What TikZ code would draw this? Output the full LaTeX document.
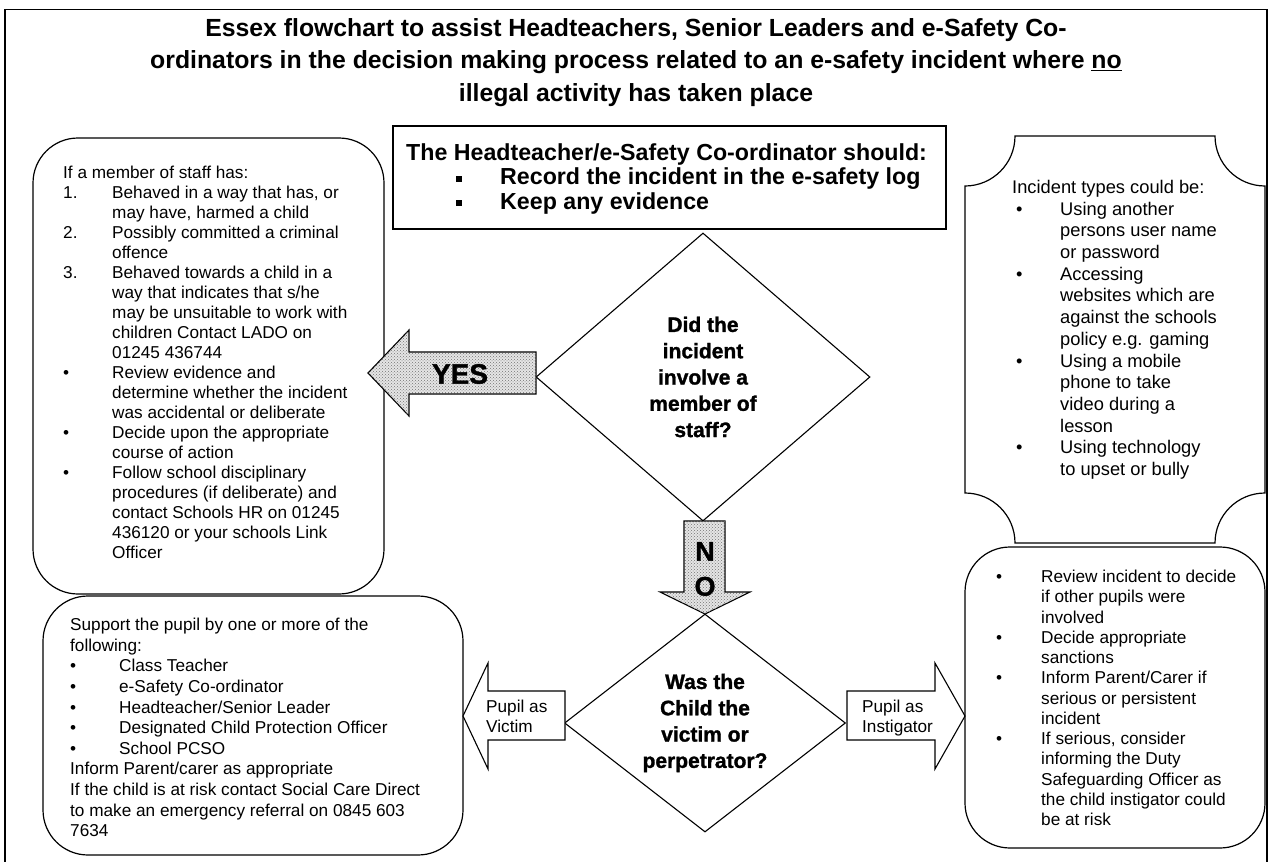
\documentclass[tikz,border=0pt]{standalone}
\usepackage{fontspec}
\setmainfont{Liberation Sans}
\newfontfamily\heavyfont{Liberation Sans}[BoldFeatures={FakeBold=1.3}]
\usetikzlibrary{shapes.geometric,patterns}

\newcommand{\lab}[2][49pt]{\makebox[#1][l]{#2}}
\newcommand{\ind}[1][49pt]{\hspace*{#1}}
\newcommand{\sq}{\rule[3pt]{6pt}{6pt}}

\begin{document}
\begin{tikzpicture}[x=1pt,y=-1pt,
  panel/.style={draw,line width=1.2pt,rounded corners=45pt},
  body/.style={anchor=north west,inner sep=0pt,align=left},
  question/.style={draw,diamond,line width=1.1pt,inner sep=0pt,align=center,
    font=\heavyfont\bfseries\fontsize{21}{26.3}\selectfont},
  greyarrow/.style={draw,line width=1.1pt,fill=black!10,
    postaction={pattern=crosshatch dots,pattern color=black!55}},
  whitearrow/.style={draw,line width=1.1pt,fill=white}]

\useasboundingbox (0,0) rectangle (1272,862);

% frame and title
\draw[line width=1.3pt] (5,870) -- (5,9.5) -- (1267,9.5) -- (1267,870);
\node[align=center,font=\bfseries\fontsize{24.8}{32.5}\selectfont] (title) at (636,62.5)
  {Essex flowchart to assist Headteachers, Senior Leaders and e-Safety Co-\\
   ordinators in the decision making process related to an e-safety incident where \underline{no}\\
   illegal activity has taken place};

% what to do first
\draw[line width=1.2pt] (393,126) rectangle (946,229);
\node[body,font=\bfseries\fontsize{23.2}{24.5}\selectfont] (first) at (406,143)
  {The Headteacher/e-Safety Co-ordinator should:\\
   \ind[50pt]\lab[44pt]{\sq}Record the incident in the e-safety log\\
   \ind[50pt]\lab[44pt]{\sq}Keep any evidence};

% staff box
\draw[panel] (33,138) rectangle (384,594);
\node[body,font=\fontsize{17.2}{20}\selectfont] (staff) at (63,166)
  {If a member of staff has:\\
   \lab{1.}Behaved in a way that has, or\\
   \ind may have, harmed a child\\
   \lab{2.}Possibly committed a criminal\\
   \ind offence\\
   \lab{3.}Behaved towards a child in a\\
   \ind way that indicates that s/he\\
   \ind may be unsuitable to work with\\
   \ind children Contact LADO on\\
   \ind 01245 436744\\
   \lab{\textbullet}Review evidence and\\
   \ind determine whether the incident\\
   \ind was accidental or deliberate\\
   \lab{\textbullet}Decide upon the appropriate\\
   \ind course of action\\
   \lab{\textbullet}Follow school disciplinary\\
   \ind procedures (if deliberate) and\\
   \ind contact Schools HR on 01245\\
   \ind 436120 or your schools Link\\
   \ind Officer};

% incident types
\draw[line width=1.2pt] (1015,136) -- (1215,136)
  .. controls (1215,163.6) and (1237.4,186) .. (1265,186) -- (1265,493)
  .. controls (1237.4,493) and (1215,515.4) .. (1215,543) -- (1015,543)
  .. controls (1015,515.4) and (992.6,493) .. (965,493) -- (965,186)
  .. controls (992.6,186) and (1015,163.6) .. (1015,136) -- cycle;
\node[body,font=\fontsize{18.3}{21.7}\selectfont] (types) at (1012,180)
  {Incident types could be:\\
   \lab[48pt]{\hspace{4pt}\textbullet}Using another\\
   \ind[48pt]persons user name\\
   \ind[48pt]or password\\
   \lab[48pt]{\hspace{4pt}\textbullet}Accessing\\
   \ind[48pt]websites which are\\
   \ind[48pt]against the schools\\
   \ind[48pt]policy e.g. gaming\\
   \lab[48pt]{\hspace{4pt}\textbullet}Using a mobile\\
   \ind[48pt]phone to take\\
   \ind[48pt]video during a\\
   \ind[48pt]lesson\\
   \lab[48pt]{\hspace{4pt}\textbullet}Using technology\\
   \ind[48pt]to upset or bully};

% victim box
\draw[panel] (43,596) rectangle (463,855);
\node[body,font=\fontsize{17.2}{20.6}\selectfont] (support) at (70,618)
  {Support the pupil by one or more of the\\
   following:\\
   \lab{\textbullet}Class Teacher\\
   \lab{\textbullet}e-Safety Co-ordinator\\
   \lab{\textbullet}Headteacher/Senior Leader\\
   \lab{\textbullet}Designated Child Protection Officer\\
   \lab{\textbullet}School PCSO\\
   Inform Parent/carer as appropriate\\
   If the child is at risk contact Social Care Direct\\
   to make an emergency referral on 0845 603\\
   7634};

% instigator box
\draw[panel] (965,547) rectangle (1265,848);
\node[body,font=\fontsize{17.2}{20.25}\selectfont] (sanctions) at (996,570)
  {\lab[45pt]{\textbullet}Review incident to decide\\
   \ind[45pt]if other pupils were\\
   \ind[45pt]involved\\
   \lab[45pt]{\textbullet}Decide appropriate\\
   \ind[45pt]sanctions\\
   \lab[45pt]{\textbullet}Inform Parent/Carer if\\
   \ind[45pt]serious or persistent\\
   \ind[45pt]incident\\
   \lab[45pt]{\textbullet}If serious, consider\\
   \ind[45pt]informing the Duty\\
   \ind[45pt]Safeguarding Officer as\\
   \ind[45pt]the child instigator could\\
   \ind[45pt]be at risk};

% questions
\node[question,minimum width=334pt,minimum height=288pt,aspect=1.16] (staffq) at (703,377)
  {Did the\\incident\\involve a\\member of\\staff?};
\node[question,minimum width=281pt,minimum height=218pt,aspect=1.3] (childq) at (705,723)
  {Was the\\Child the\\victim or\\perpetrator?};

% YES and NO arrows
\draw[greyarrow] (368,373) -- (409,330) -- (409,352) -- (536,352) -- (536,394)
  -- (409,394) -- (409,416) -- cycle;
\node[font=\heavyfont\bfseries\fontsize{28}{28}\selectfont] (yes) at (460,374) {YES};

\draw[greyarrow] (684,521) -- (725,521) -- (725,592) -- (750,592) -- (705,614)
  -- (660,592) -- (684,592) -- cycle;
\node[align=center,font=\heavyfont\bfseries\fontsize{27}{35}\selectfont] (no) at (705,569) {N\\O};

% pupil arrows
\draw[whitearrow] (463,716) -- (488,663) -- (488,691) -- (565,691) -- (565,740)
  -- (488,740) -- (488,769) -- cycle;
\node[body,font=\fontsize{17.2}{20}\selectfont] (victim) at (486,700) {Pupil as\\Victim};

\draw[whitearrow] (847,691) -- (935,691) -- (935,663) -- (965,716) -- (935,769)
  -- (935,740) -- (847,740) -- cycle;
\node[body,font=\fontsize{17.2}{20}\selectfont] (instigator) at (862,700) {Pupil as\\Instigator};

\end{tikzpicture}
\end{document}
